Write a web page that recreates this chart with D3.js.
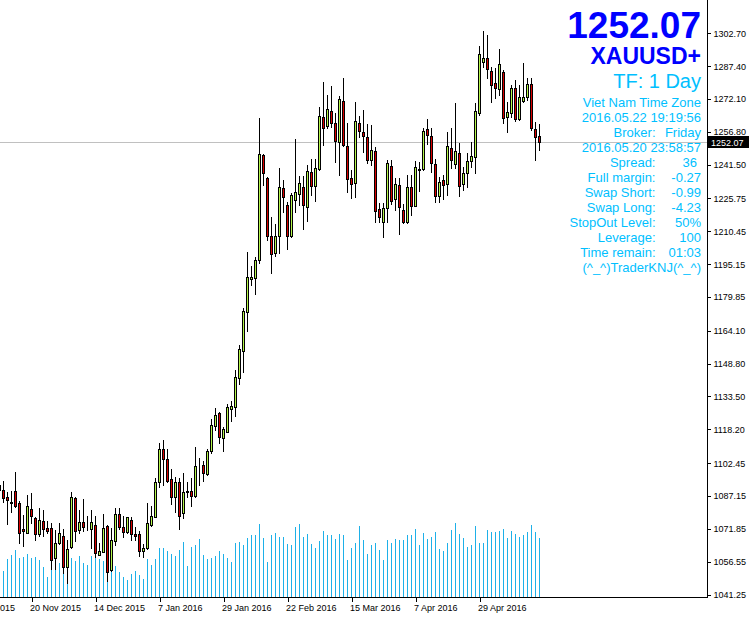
<!DOCTYPE html>
<html><head><meta charset="utf-8">
<script src="https://cdn.jsdelivr.net/npm/d3@7"></script>
<style>
html,body{margin:0;padding:0;background:#fff;overflow:hidden;}
svg text{font-family:"Liberation Sans",Arial,sans-serif;}
</style></head>
<body>
<svg id="c" width="750" height="618"></svg>
<script>
// ---- data (XAUUSD+, D1) ----
const holidays = ["2015-12-25","2016-01-01","2016-03-25"];
const dates = (() => { const out=[]; const d=new Date(Date.UTC(2015,10,10));
  while(out.length<136){ const wd=d.getUTCDay(), s=d.toISOString().slice(0,10);
    if(wd!==0&&wd!==6&&!holidays.includes(s)) out.push(s); d.setUTCDate(d.getUTCDate()+1);} return out; })();

const open = [1092.28,1089.95,1086.69,1084.40,1089.48,1083.89,1071.78,1070.06,1080.96,1076.90,1069.31,1075.51,1072.25,1072.11,1058.13,1065.12,1068.52,1053.94,1063.25,1086.22,1071.18,1075.04,1072.00,1071.92,1073.50,1059.81,1061.21,1073.04,1052.68,1066.19,1078.77,1072.71,1070.24,1075.97,1069.59,1069.31,1061.39,1062.79,1073.64,1077.51,1093.54,1109.05,1104.39,1095.07,1086.83,1093.54,1079.38,1089.00,1089.48,1087.29,1100.90,1101.46,1097.40,1108.26,1119.90,1125.82,1114.31,1117.11,1127.82,1128.75,1141.98,1154.84,1172.73,1188.38,1188.85,1197.09,1245.87,1235.15,1208.27,1200.21,1208.41,1230.49,1222.57,1208.41,1225.04,1227.70,1231.24,1221.92,1237.95,1231.70,1239.62,1263.57,1259.51,1266.64,1260.77,1252.20,1271.16,1250.06,1235.29,1232.82,1260.77,1256.58,1254.25,1243.68,1247.87,1220.71,1214.93,1221.18,1240.88,1225.37,1231.89,1220.38,1214.93,1230.96,1222.39,1239.30,1239.34,1257.98,1254.86,1241.67,1227.04,1234.22,1232.36,1249.27,1241.81,1246.80,1232.50,1237.48,1243.35,1245.21,1265.71,1289.47,1291.05,1285.27,1279.68,1276.89,1284.53,1263.85,1265.71,1277.08,1262.64,1271.16,1273.16,1279.08,1258.12,1254.86];
const high = [1094.61,1094.28,1089.16,1089.48,1098.33,1084.96,1078.30,1087.62,1088.55,1077.23,1081.56,1080.63,1075.65,1074.44,1071.31,1074.44,1071.92,1066.66,1089.02,1086.83,1080.63,1085.90,1077.84,1080.63,1077.84,1065.40,1078.77,1073.50,1072.11,1081.70,1081.42,1077.84,1077.50,1077.23,1072.85,1070.99,1064.65,1084.03,1082.49,1095.68,1111.80,1113.24,1109.05,1099.73,1095.86,1095.40,1097.73,1093.54,1095.40,1110.12,1104.72,1103.60,1108.91,1122.88,1128.01,1126.42,1119.44,1130.01,1131.41,1145.85,1157.50,1174.59,1200.68,1194.30,1198.49,1263.10,1246.47,1235.62,1217.26,1213.86,1239.81,1234.36,1223.97,1228.44,1253.32,1236.22,1236.22,1241.35,1244.14,1244.14,1268.23,1279.87,1273.96,1278.15,1265.43,1273.63,1281.87,1260.77,1239.02,1270.83,1264.17,1266.97,1260.45,1259.98,1249.87,1223.78,1223.50,1243.68,1243.68,1235.43,1235.15,1223.18,1236.69,1236.69,1243.35,1242.88,1258.72,1262.64,1258.44,1244.00,1235.90,1236.69,1256.58,1258.44,1270.09,1251.46,1240.55,1246.80,1252.20,1270.09,1296.78,1303.77,1301.91,1287.14,1286.39,1295.38,1285.60,1270.83,1278.61,1280.94,1278.61,1289.00,1282.01,1281.73,1261.24,1260.45];
const low = [1087.62,1084.50,1074.11,1079.84,1081.89,1065.40,1064.00,1069.78,1074.44,1066.66,1068.52,1068.52,1069.78,1053.01,1053.01,1064.79,1051.14,1046.49,1062.79,1066.33,1069.78,1070.99,1071.31,1062.79,1058.88,1059.53,1060.93,1047.70,1052.21,1064.33,1071.64,1068.19,1069.78,1066.66,1066.66,1059.20,1058.88,1062.32,1073.18,1077.23,1091.49,1092.28,1093.81,1083.43,1079.84,1071.64,1076.76,1086.83,1082.49,1086.83,1092.28,1094.28,1096.94,1107.04,1117.90,1111.70,1108.26,1116.83,1122.23,1124.56,1139.33,1145.06,1164.16,1185.45,1181.25,1195.83,1232.03,1206.41,1190.90,1198.95,1200.21,1219.59,1202.08,1207.94,1219.59,1222.71,1211.39,1215.40,1227.37,1224.72,1239.02,1250.52,1258.72,1258.91,1242.88,1236.69,1250.20,1228.91,1225.83,1226.30,1254.25,1247.54,1242.42,1241.35,1214.93,1214.93,1207.94,1214.93,1223.18,1220.38,1209.06,1214.47,1214.47,1218.05,1222.25,1229.23,1239.02,1251.13,1238.23,1223.97,1224.25,1225.51,1227.37,1239.81,1239.81,1226.91,1229.70,1231.24,1240.55,1237.48,1264.64,1287.14,1281.73,1270.83,1272.42,1273.96,1260.77,1256.58,1263.85,1261.84,1262.31,1270.55,1271.63,1257.65,1243.68,1248.33];
const close = [1089.95,1086.36,1085.43,1084.10,1082.63,1070.06,1070.71,1082.36,1077.98,1069.31,1075.97,1071.64,1070.99,1057.48,1065.12,1069.78,1053.94,1062.46,1086.69,1070.71,1075.04,1072.71,1072.20,1075.04,1060.46,1061.53,1072.25,1051.89,1066.66,1078.63,1072.85,1070.52,1077.23,1069.31,1068.66,1061.67,1063.07,1074.58,1077.69,1093.54,1109.05,1104.53,1094.28,1086.83,1093.54,1077.98,1088.88,1089.30,1087.29,1100.99,1101.10,1097.73,1108.12,1120.23,1124.89,1114.78,1118.36,1128.61,1129.08,1142.59,1155.63,1173.33,1189.03,1189.17,1197.09,1246.47,1237.48,1208.41,1199.89,1208.27,1230.96,1226.30,1208.41,1227.23,1228.91,1232.82,1222.57,1238.55,1231.70,1239.81,1264.17,1258.44,1267.29,1261.05,1252.67,1271.95,1250.52,1234.96,1232.36,1261.98,1257.32,1255.00,1243.54,1248.19,1220.06,1216.98,1221.18,1242.28,1224.58,1232.36,1221.92,1214.93,1230.96,1222.25,1240.27,1238.88,1257.18,1255.18,1242.42,1227.04,1233.29,1232.17,1250.06,1243.81,1247.87,1231.70,1237.48,1243.07,1245.54,1266.36,1293.05,1291.33,1285.93,1278.61,1277.36,1288.40,1263.38,1265.90,1277.08,1262.78,1272.88,1273.16,1278.94,1258.44,1254.25,1252.07];
// tick volume (thousands)
const volume = [22,26,38,42,47,39,40,43,39,40,37,30,20,27,30,34,23,32,39,36,41,34,32,41,40,38,36,39,31,31,25,20,17,23,26,22,18,38,32,38,49,49,46,43,41,47,55,31,50,52,58,42,38,39,41,46,43,39,35,54,55,52,59,62,62,73,59,35,62,64,60,60,53,52,70,73,60,63,53,49,56,66,62,62,58,63,62,37,49,54,71,57,43,52,54,47,37,57,54,58,57,57,62,62,68,52,64,58,60,65,48,46,54,67,74,63,59,50,52,71,54,54,67,65,65,66,68,59,66,63,60,62,65,72,65,59];

const priceTicks = [1302.70,1287.40,1272.10,1256.80,1241.50,1225.75,1210.45,1195.15,1179.85,1164.10,1148.80,1133.50,1118.20,1102.45,1087.15,1071.85,1056.55,1041.25];
const dateTickIdx = [-8,8,24,40,56,72,88,104,120];
const dateTickLabels = ["29 Oct 2015","20 Nov 2015","14 Dec 2015","7 Jan 2016","29 Jan 2016","22 Feb 2016","15 Mar 2016","7 Apr 2016","29 Apr 2016"];
const lastPrice = 1252.07;
const headline = ["1252.07","XAUUSD+","TF: 1 Day"];
const infoFull = ["Viet Nam Time Zone","2016.05.22 19:19:56",null,"2016.05.20 23:58:57",null,null,null,null,null,null,null,"(^_^)TraderKNJ(^_^)"];
const infoLabels = [null,null,"Broker:",null,"Spread:","Full margin:","Swap Short:","Swap Long:","StopOut Level:","Leverage:","Time remain:",null];
const infoValues = [null,null,"Friday",null,"36","-0.27","-0.99","-4.23","50%","100","01:03",null];

// ---- drawing ----
const svg = d3.select("#c");
const plotRight = 707.5, plotBottom = 597.5;
const x = d3.scaleLinear().domain([0,135]).range([-0.5,539.5]);
const y = d3.scaleLinear().domain([1041.25,1302.70]).range([594.5,33.3]);
const yv = d3.scaleLinear().domain([0,80]).range([597,517]);
const py = v => Math.round(y(v)) + 0.5;

const bars = d3.range(open.length).map(i => ({i, date:dates[i], o:open[i], h:high[i], l:low[i], c:close[i], v:volume[i]}));

const plot = svg.append("g");
plot.append("defs").append("clipPath").attr("id","pc").append("rect").attr("x",0).attr("y",0).attr("width",plotRight).attr("height",plotBottom);
const g = plot.append("g").attr("clip-path","url(#pc)");

// volumes
g.selectAll("line.vol").data(bars).join("line").attr("class","vol")
  .attr("x1",d=>x(d.i)).attr("x2",d=>x(d.i))
  .attr("y1",yv(0)).attr("y2",d=>Math.round(yv(d.v)))
  .attr("stroke","#1eb0e8").attr("stroke-width",1).attr("shape-rendering","crispEdges");

// bid line
g.append("line").attr("x1",0).attr("x2",plotRight).attr("y1",py(lastPrice)).attr("y2",py(lastPrice))
  .attr("stroke","#c0c0c0").attr("stroke-width",1).attr("shape-rendering","crispEdges");

// wicks
g.selectAll("line.wick").data(bars).join("line").attr("class","wick")
  .attr("x1",d=>x(d.i)).attr("x2",d=>x(d.i))
  .attr("y1",d=>py(d.h)-0.5).attr("y2",d=>py(d.l)+0.5)
  .attr("stroke","#000").attr("stroke-width",1).attr("shape-rendering","crispEdges");

// bodies
g.selectAll("rect.body").data(bars).join("rect").attr("class","body")
  .attr("x",d=>x(d.i)-1).attr("width",2)
  .attr("y",d=>py(Math.max(d.o,d.c)))
  .attr("height",d=>Math.max(0, py(Math.min(d.o,d.c)) - py(Math.max(d.o,d.c))))
  .attr("fill",d=>d.c>=d.o?"#b4f54b":"#d80000")
  .attr("stroke","#000").attr("stroke-width",1).attr("shape-rendering","crispEdges");

// frame
svg.append("line").attr("x1",0).attr("x2",plotRight).attr("y1",plotBottom).attr("y2",plotBottom).attr("stroke","#000").attr("shape-rendering","crispEdges");
svg.append("line").attr("x1",plotRight).attr("x2",plotRight).attr("y1",0).attr("y2",plotBottom).attr("stroke","#000").attr("shape-rendering","crispEdges");

// price axis
const ya = svg.append("g").attr("transform",`translate(${plotRight},0)`)
  .call(d3.axisRight(y).tickValues(priceTicks).tickSize(3).tickPadding(3).tickFormat(d3.format(".2f")));
ya.select(".domain").remove();
ya.selectAll("text").attr("font-family","Liberation Sans, Arial, sans-serif").attr("font-size",9).attr("fill","#000");
ya.selectAll("line").attr("shape-rendering","crispEdges");

// last price box
svg.append("rect").attr("x",708).attr("y",py(lastPrice)-6.5).attr("width",41).attr("height",12).attr("fill","#000");
svg.append("text").attr("x",711).attr("y",py(lastPrice)+3.5).attr("fill","#fff").attr("font-size",9).text(d3.format(".2f")(lastPrice));

// date axis
const xa = svg.append("g").attr("transform",`translate(0,${plotBottom})`)
  .call(d3.axisBottom(x).tickValues(dateTickIdx).tickSize(4).tickPadding(3).tickFormat((d,i)=>dateTickLabels[i]));
xa.select(".domain").remove();
xa.selectAll("text").attr("text-anchor","start").attr("dx",-2).attr("font-size",9).attr("font-family","Liberation Sans, Arial, sans-serif").attr("fill","#000");
xa.selectAll("line").attr("shape-rendering","crispEdges");

// overlay info
const tx = 701;
svg.append("text").attr("x",tx).attr("y",37.5).attr("text-anchor","end").attr("font-weight","bold").attr("font-size",37).attr("fill","#0000ff").text(headline[0]);
svg.append("text").attr("x",tx).attr("y",64).attr("text-anchor","end").attr("font-weight","bold").attr("font-size",23).attr("fill","#0000ff").text(headline[1]);
svg.append("text").attr("x",tx).attr("y",87.5).attr("text-anchor","end").attr("font-size",20).attr("fill","#00bfff").text(headline[2]);
const info = svg.append("g").attr("font-size",13).attr("fill","#00bfff");
const rowY = i => 106.5 + 15*i;
infoFull.forEach((t,i)=>{ if(t) info.append("text").attr("x",tx).attr("y",rowY(i)).attr("text-anchor","end").text(t); });
infoLabels.forEach((t,i)=>{ if(t) info.append("text").attr("x",655.5).attr("y",rowY(i)).attr("text-anchor","end").text(t); });
infoValues.forEach((t,i)=>{ if(t) info.append("text").attr("x", t==="36"?697:tx).attr("y",rowY(i)).attr("text-anchor","end").text(t); });
</script>
</body></html>
